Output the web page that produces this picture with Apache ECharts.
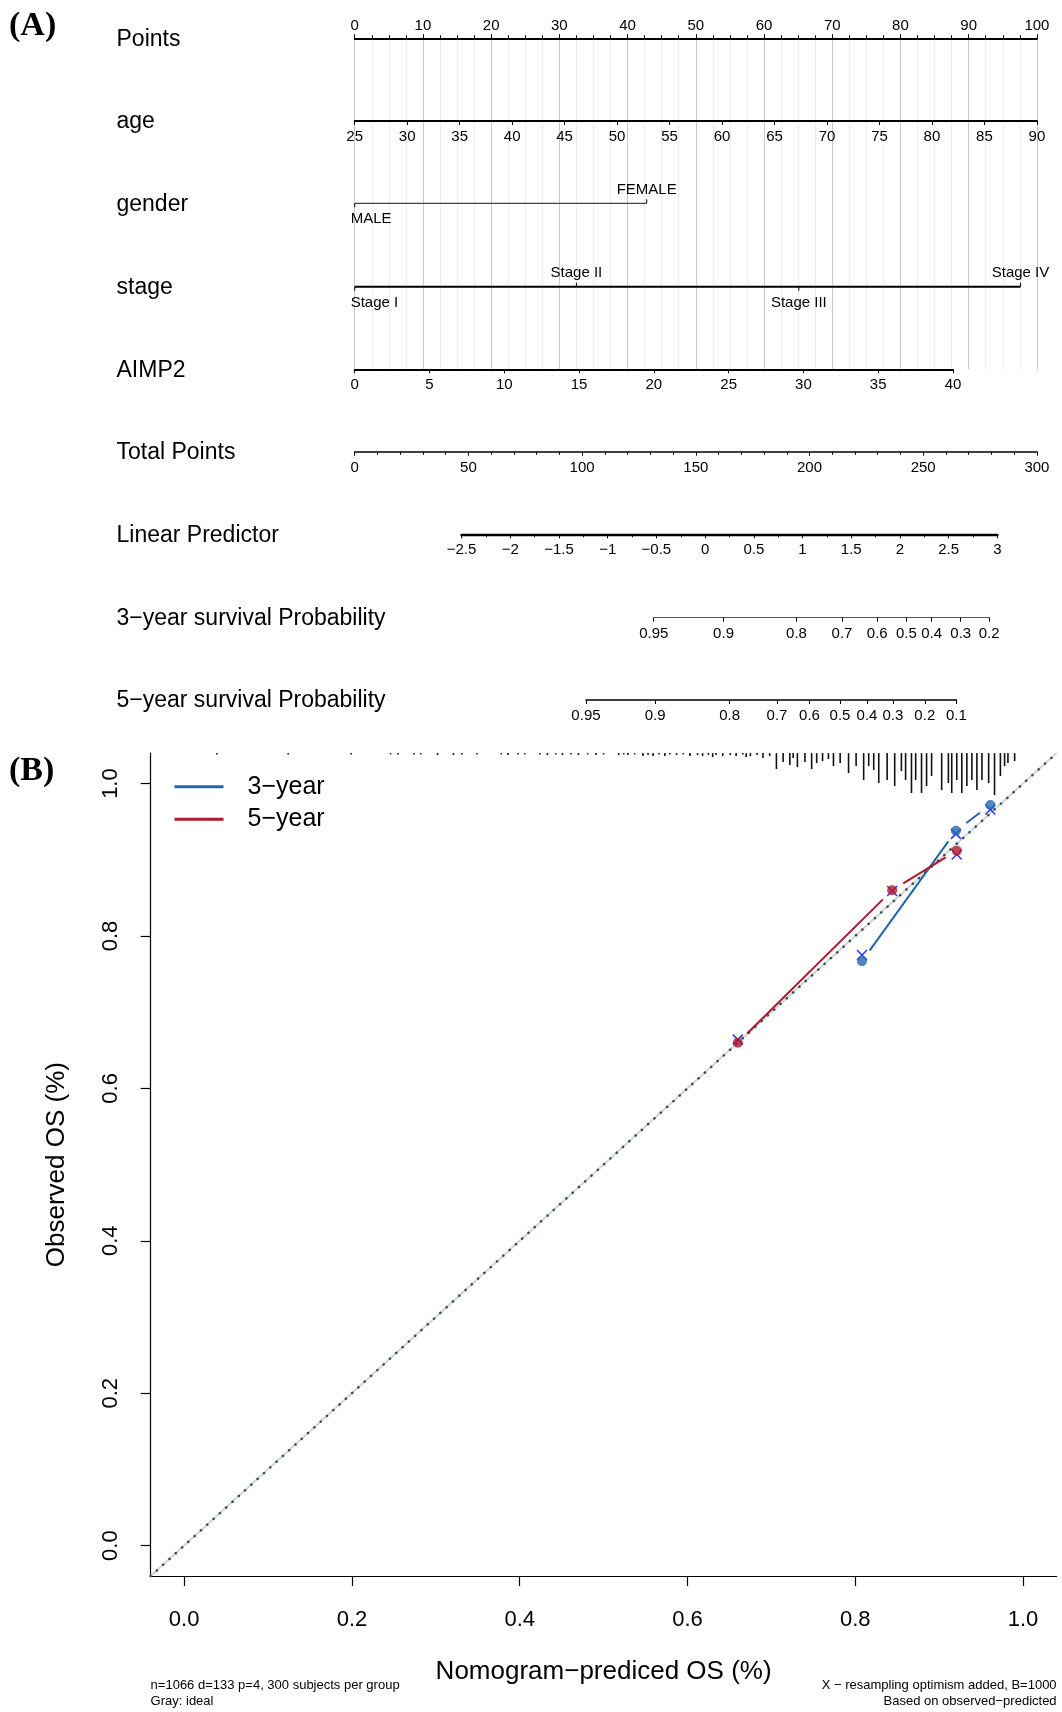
<!DOCTYPE html>
<html>
<head>
<meta charset="utf-8">
<script src="https://cdn.jsdelivr.net/npm/echarts@6/dist/echarts.min.js"></script>
<style>
  html, body { margin: 0; padding: 0; background: #fff; }
  #chart { width: 1062px; height: 1712px; }
</style>
</head>
<body>
<div id="chart"></div>
<script>
// ---------- (A) nomogram ----------
const rowNames = ['Points', 'age', 'gender', 'stage', 'AIMP2', 'Total Points',
  'Linear Predictor', '3\u2212year survival Probability', '5\u2212year survival Probability'];
const ageRange = [25, 90];
const aimp2Range = [0, 40];
const aimp2MaxPoints = 87.7;            // points awarded at AIMP2 = 40
const totalRange = [0, 300];
const lpRange = [-2.5, 3];
const lpTotalAt = [47.0, 282.6];        // total points at LP = -2.5 and LP = 3
const genderLevels = ['MALE', 'FEMALE'];
const genderPoints = [0, 42.8];
const stageLevels = ['Stage I', 'Stage II', 'Stage III', 'Stage IV'];
const stagePoints = [0, 32.5, 65.1, 97.6];
const surv3Labels = ['0.95', '0.9', '0.8', '0.7', '0.6', '0.5', '0.4', '0.3', '0.2'];
const surv3Total = [131.5, 162.2, 194.3, 214.3, 229.8, 242.6, 253.7, 266.5, 279.0];
const surv5Labels = ['0.95', '0.9', '0.8', '0.7', '0.6', '0.5', '0.4', '0.3', '0.2', '0.1'];
const surv5Total = [101.7, 132.1, 164.9, 185.7, 200.0, 213.4, 225.3, 236.7, 250.7, 264.6];

// ---------- (B) calibration ----------
const calTicks = [0, 0.2, 0.4, 0.6, 0.8, 1.0];
const cal3Pred = [0.808, 0.920, 0.961];
const cal3Obs = [0.767, 0.938, 0.972];
const cal3Corrected = [0.775, 0.934, 0.966];
const cal5Pred = [0.660, 0.844, 0.921];
const cal5Obs = [0.660, 0.860, 0.912];
const cal5Corrected = [0.664, 0.859, 0.907];
const rugPred = [0.039, 0.124, 0.199, 0.246, 0.255,
  0.274, 0.282, 0.302, 0.321, 0.331, 0.349, 0.378, 0.386, 0.398, 0.406, 0.424, 0.433, 0.443, 0.451, 0.461, 0.470, 0.481, 0.491, 0.500,
  0.518, 0.524, 0.529, 0.537, 0.547, 0.553, 0.559, 0.566, 0.573, 0.579, 0.587, 0.595, 0.603, 0.612, 0.618, 0.625, 0.630, 0.634, 0.642,
  0.651, 0.658, 0.666, 0.670, 0.675, 0.683, 0.690, 0.698, 0.706, 0.714, 0.722, 0.726, 0.731, 0.740, 0.748,
  0.754, 0.761, 0.768, 0.774, 0.782, 0.792, 0.801, 0.810, 0.816, 0.822, 0.828, 0.838, 0.847, 0.855, 0.860, 0.867, 0.872, 0.879,
  0.885, 0.891, 0.903, 0.911, 0.915, 0.921, 0.927, 0.933, 0.939, 0.945, 0.951, 0.959, 0.966, 0.973, 0.978, 0.982, 0.990];
const rugFreq = [1, 1, 1, 1, 1,
  1, 1, 2, 2, 1, 1, 1, 2, 1, 1, 1, 2, 1, 2, 1, 2, 1, 2, 1,
  2, 1, 2, 1, 3, 2, 3, 1, 3, 1, 2, 1, 3, 2, 3, 2, 4, 2, 3,
  2, 3, 1, 4, 3, 2, 5, 3, 16, 9, 12, 5, 14, 9, 16,
  10, 8, 6, 13, 10, 20, 13, 27, 13, 17, 30, 27, 33, 18, 27, 40, 27, 40,
  33, 23, 37, 30, 40, 27, 40, 33, 27, 37, 27, 30, 42, 23, 13, 10, 8];

// ---------- layout ----------
const FONT = '"Liberation Sans", Arial, Helvetica, sans-serif';
const BLUE = '#2166AC', RED = '#B2182B';
const P0 = 354.7, PW = 682.2;                     // pixel span of the 0-100 points scale
const xPts = p => P0 + p / 100 * PW;
const xTot = t => P0 + t / 300 * PW;
const ROW_Y = [38.3, 121, 203.3, 286.7, 369.3, 451.7, 534.3, 617.7, 700];

const axisGrid = (l, r, y) => ({ left: l, width: r - l, top: y - 10, height: 10, outerBoundsMode: 'none' });
const bandGrid = (y) => ({ left: P0, width: PW, top: y - 10, height: 20, outerBoundsMode: 'none' });

const grids = [
  { left: P0, width: PW, top: ROW_Y[0], height: ROW_Y[4] - ROW_Y[0], outerBoundsMode: 'none' },
  axisGrid(xPts(0), xPts(100), ROW_Y[1]),
  bandGrid(ROW_Y[2]),
  bandGrid(ROW_Y[3]),
  axisGrid(xPts(0), xPts(aimp2MaxPoints), ROW_Y[4]),
  axisGrid(xTot(0), xTot(300), ROW_Y[5]),
  axisGrid(xTot(lpTotalAt[0]), xTot(lpTotalAt[1]), ROW_Y[6]),
  axisGrid(xTot(surv3Total[0]), xTot(surv3Total[surv3Total.length - 1]), ROW_Y[7]),
  axisGrid(xTot(surv5Total[0]), xTot(surv5Total[surv5Total.length - 1]), ROW_Y[8]),
  { left: 150.6, top: 753.1, width: 906, height: 823, outerBoundsMode: 'none' }
];

const labelStyle = { fontSize: 15, color: '#000', fontFamily: FONT, margin: 8.5 };
function nomoAxis(gi, cfg) {
  return Object.assign({
    gridIndex: gi, type: 'value', position: 'bottom',
    axisLine: { show: true, onZero: false, lineStyle: { color: '#000', width: cfg.lw || 2 } },
    axisTick: { show: true, length: 4, lineStyle: { color: '#000', width: 1 } },
    axisLabel: Object.assign({}, labelStyle),
    splitLine: { show: false }
  }, cfg.opt);
}
const minusFmt = v => String(v).replace('-', '\u2212');
const lookup = (vals, labels) => v => {
  let best = 0;
  vals.forEach((t, i) => { if (Math.abs(t - v) < Math.abs(vals[best] - v)) best = i; });
  return labels[best];
};

const xAxes = [
  nomoAxis(0, { lw: 2, opt: {
    position: 'top', min: 0, max: 100, interval: 10,
    axisLabel: Object.assign({}, labelStyle, { margin: 5 }),
    minorTick: { show: true, splitNumber: 4, length: 3, lineStyle: { color: '#000', width: 1 } },
    splitLine: { show: true, lineStyle: { color: '#c9c9c9', width: 1 } },
    minorSplitLine: { show: true, lineStyle: { color: '#ececec', width: 1 } }
  } }),
  nomoAxis(1, { lw: 2, opt: { min: ageRange[0], max: ageRange[1], interval: 5 } }),
  { gridIndex: 2, type: 'value', min: 0, max: 100, show: false },
  { gridIndex: 3, type: 'value', min: 0, max: 100, show: false },
  nomoAxis(4, { lw: 2, opt: { min: aimp2Range[0], max: aimp2Range[1], interval: 5 } }),
  nomoAxis(5, { lw: 1.6, opt: { min: totalRange[0], max: totalRange[1], interval: 50,
    minorTick: { show: true, splitNumber: 5, length: 3, lineStyle: { color: '#000', width: 1 } } } }),
  nomoAxis(6, { lw: 2.4, opt: { min: lpRange[0], max: lpRange[1], interval: 0.5,
    axisLabel: Object.assign({}, labelStyle, { formatter: minusFmt }),
    minorTick: { show: true, splitNumber: 2, length: 3, lineStyle: { color: '#000', width: 1 } } } }),
  nomoAxis(7, { lw: 1.2, opt: {
    min: surv3Total[0], max: surv3Total[surv3Total.length - 1],
    axisLine: { show: true, onZero: false, lineStyle: { color: '#555', width: 1.2 } },
    axisTick: { show: true, length: 4, customValues: surv3Total, lineStyle: { color: '#000', width: 1 } },
    axisLabel: Object.assign({}, labelStyle, { customValues: surv3Total, formatter: lookup(surv3Total, surv3Labels) })
  } }),
  nomoAxis(8, { lw: 1.6, opt: {
    min: surv5Total[0], max: surv5Total[surv5Total.length - 1],
    axisTick: { show: true, length: 4, customValues: surv5Total, lineStyle: { color: '#000', width: 1 } },
    axisLabel: Object.assign({}, labelStyle, { customValues: surv5Total, formatter: lookup(surv5Total, surv5Labels) })
  } }),
  {
    gridIndex: 9, type: 'value', min: -0.04, max: 1.04, position: 'bottom',
    name: 'Nomogram\u2212prediced OS (%)', nameLocation: 'middle', nameGap: 83,
    nameTextStyle: { fontSize: 26, color: '#000', fontFamily: FONT },
    axisLine: { show: true, onZero: false, lineStyle: { color: '#000', width: 1.2 } },
    axisTick: { show: true, length: 10, customValues: calTicks, lineStyle: { color: '#000', width: 1.2 } },
    axisLabel: { customValues: calTicks, margin: 33, fontSize: 22, color: '#000', fontFamily: FONT,
      formatter: v => v.toFixed(1) },
    splitLine: { show: false }
  }
];

const yAxes = [];
for (let i = 0; i < 9; i++) yAxes.push({ gridIndex: i, type: 'value', min: 0, max: 1, show: false });
yAxes.push({
  gridIndex: 9, type: 'value', min: -0.04, max: 1.04, position: 'left',
  name: 'Observed OS (%)', nameLocation: 'middle', nameGap: 81, nameRotate: 90,
  nameTextStyle: { fontSize: 26, color: '#000', fontFamily: FONT },
  axisLine: { show: true, onZero: false, lineStyle: { color: '#000', width: 1.2 } },
  axisTick: { show: true, length: 10, customValues: calTicks, lineStyle: { color: '#000', width: 1.2 } },
  axisLabel: { customValues: calTicks, margin: 29, rotate: 90, fontSize: 22, color: '#000', fontFamily: FONT,
    formatter: v => v.toFixed(1) },
  splitLine: { show: false }
});

// categorical rows: ticks alternate down / up with the level labels
function levelItem(labels) {
  return function (params, api) {
    const i = api.value(1);
    const p = api.coord([api.value(0), 0.5]);
    const up = i % 2 === 1;
    return {
      type: 'group',
      children: [
        { type: 'line', shape: { x1: p[0], y1: p[1], x2: p[0], y2: p[1] + (up ? -4 : 4) },
          style: { stroke: '#000', lineWidth: 1 } },
        { type: 'text', style: {
            text: labels[i], x: i === 0 ? p[0] - 4 : p[0], y: up ? p[1] - 13.5 : p[1] + 16,
            align: i === 0 ? 'left' : 'center', verticalAlign: 'middle',
            fontSize: 15, fontFamily: FONT, fill: '#000' } }
      ]
    };
  };
}

// calibration curves: segments stop short of each point
function segmentsOf(px, py) {
  const out = [];
  for (let i = 0; i < px.length - 1; i++) out.push([px[i], py[i], px[i + 1], py[i + 1]]);
  return out;
}
function gapSegment(color) {
  return function (params, api) {
    const a = api.coord([api.value(0), api.value(1)]);
    const b = api.coord([api.value(2), api.value(3)]);
    const dx = b[0] - a[0], dy = b[1] - a[1], L = Math.hypot(dx, dy), gap = 13;
    if (L <= 2 * gap) return null;
    const ux = dx / L, uy = dy / L;
    return { type: 'line',
      shape: { x1: a[0] + ux * gap, y1: a[1] + uy * gap, x2: b[0] - ux * gap, y2: b[1] - uy * gap },
      style: { stroke: color, lineWidth: 2 } };
  };
}
const zip = (a, b) => a.map((v, i) => [v, b[i]]);
const RUG_TOP = 1.04, RUG_UNIT = 0.00131;

const series = [
  { type: 'line', xAxisIndex: 2, yAxisIndex: 2, silent: true, symbol: 'none',
    data: [[0, 0.5], [Math.max(...genderPoints), 0.5]], lineStyle: { color: '#444', width: 1.2 } },
  { type: 'custom', xAxisIndex: 2, yAxisIndex: 2, silent: true, clip: false,
    data: genderPoints.map((p, i) => [p, i]), renderItem: levelItem(genderLevels) },
  { type: 'line', xAxisIndex: 3, yAxisIndex: 3, silent: true, symbol: 'none',
    data: [[0, 0.5], [Math.max(...stagePoints), 0.5]], lineStyle: { color: '#000', width: 2 } },
  { type: 'custom', xAxisIndex: 3, yAxisIndex: 3, silent: true, clip: false,
    data: stagePoints.map((p, i) => [p, i]), renderItem: levelItem(stageLevels) },

  // ideal line (gray) with a dotted overlay
  { type: 'line', xAxisIndex: 9, yAxisIndex: 9, silent: true, symbol: 'none', z: 2,
    data: [[-0.04, -0.04], [1.04, 1.04]], lineStyle: { color: '#d4d4d4', width: 2 } },
  { type: 'line', xAxisIndex: 9, yAxisIndex: 9, silent: true, symbol: 'none', z: 3,
    data: [[-0.04, -0.04], [1.04, 1.04]],
    lineStyle: { color: '#2F4F4F', width: 2.6, type: [0.01, 8.5], cap: 'round' } },

  // distribution of predicted values along the top edge
  { type: 'custom', xAxisIndex: 9, yAxisIndex: 9, silent: true, z: 3,
    data: zip(rugPred, rugFreq),
    renderItem: (params, api) => {
      const t = api.coord([api.value(0), RUG_TOP]);
      const b = api.coord([api.value(0), RUG_TOP - api.value(1) * RUG_UNIT]);
      return { type: 'line', shape: { x1: t[0], y1: t[1], x2: b[0], y2: Math.max(b[1], t[1] + 1.3) },
        style: { stroke: '#111', lineWidth: 1.6 } };
    } },

  { name: '3\u2212year', type: 'custom', xAxisIndex: 9, yAxisIndex: 9, silent: true, z: 4,
    itemStyle: { color: BLUE }, data: segmentsOf(cal3Pred, cal3Obs), renderItem: gapSegment(BLUE) },
  { name: '5\u2212year', type: 'custom', xAxisIndex: 9, yAxisIndex: 9, silent: true, z: 4,
    itemStyle: { color: RED }, data: segmentsOf(cal5Pred, cal5Obs), renderItem: gapSegment(RED) },

  // optimism-corrected estimates
  { type: 'scatter', xAxisIndex: 9, yAxisIndex: 9, silent: true, z: 5,
    symbol: 'path://M0,0L10,10M10,0L0,10', symbolSize: 10,
    itemStyle: { color: 'none', borderColor: '#0000FF', borderWidth: 1.5 },
    data: zip(cal3Pred, cal3Corrected).concat(zip(cal5Pred, cal5Corrected)) },

  { type: 'scatter', xAxisIndex: 9, yAxisIndex: 9, silent: true, z: 6, symbol: 'circle', symbolSize: 10,
    itemStyle: { color: BLUE }, data: zip(cal3Pred, cal3Obs) },
  { type: 'scatter', xAxisIndex: 9, yAxisIndex: 9, silent: true, z: 6, symbol: 'circle', symbolSize: 10,
    itemStyle: { color: RED }, data: zip(cal5Pred, cal5Obs) }
];

const graphic = [
  { type: 'text', left: 9, top: 9, style: { text: '(A)', font: 'bold 34px "Liberation Serif", "Times New Roman", serif', fill: '#000' } },
  { type: 'text', left: 9, top: 754, style: { text: '(B)', font: 'bold 34px "Liberation Serif", "Times New Roman", serif', fill: '#000' } },
  { type: 'text', left: 150.6, top: 1679, style: { text: 'n=1066 d=133 p=4, 300 subjects per group', fontSize: 13, fontFamily: FONT, fill: '#000' } },
  { type: 'text', left: 150.6, top: 1694.5, style: { text: 'Gray: ideal', fontSize: 13, fontFamily: FONT, fill: '#000' } },
  { type: 'text', right: 5.4, top: 1679, style: { text: 'X \u2212 resampling optimism added, B=1000', fontSize: 13, fontFamily: FONT, fill: '#000', align: 'right' } },
  { type: 'text', right: 5.4, top: 1694.5, style: { text: 'Based on observed\u2212predicted', fontSize: 13, fontFamily: FONT, fill: '#000', align: 'right' } }
];
rowNames.forEach((name, i) => {
  graphic.push({ type: 'text', x: 116.5, y: ROW_Y[i] + 1,
    style: { text: name, fontSize: 23, fontFamily: FONT, fill: '#000', verticalAlign: 'middle' } });
});

const chart = echarts.init(document.getElementById('chart'), null, { renderer: 'canvas' });
chart.setOption({
  backgroundColor: '#fff',
  animation: false,
  textStyle: { fontFamily: FONT },
  grid: grids,
  xAxis: xAxes,
  yAxis: yAxes,
  legend: {
    orient: 'vertical', left: 169.5, top: 768.7, icon: 'rect',
    itemWidth: 49, itemHeight: 3, itemGap: 6.5, selectedMode: false,
    data: ['3\u2212year', '5\u2212year'],
    textStyle: { fontSize: 25, lineHeight: 26, color: '#000', fontFamily: FONT, padding: [0, 0, 0, 19] }
  },
  graphic: graphic,
  series: series
});
</script>
</body>
</html>
